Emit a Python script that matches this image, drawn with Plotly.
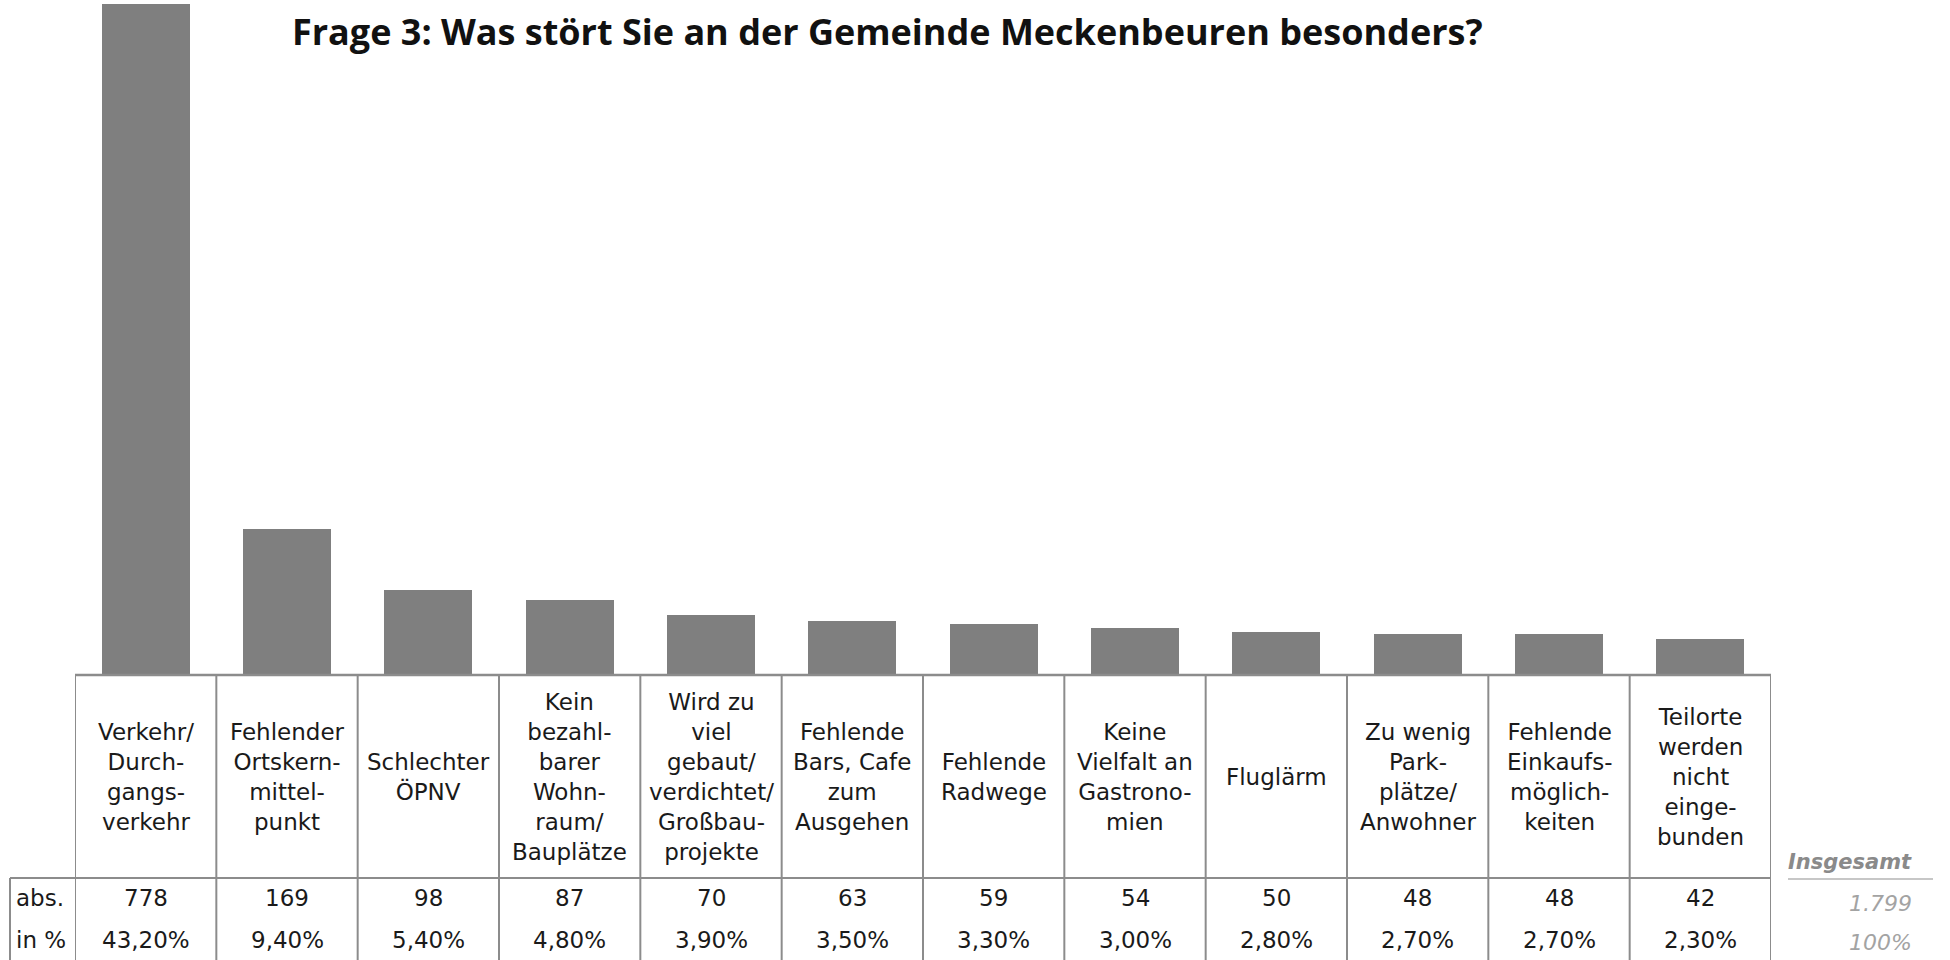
import plotly.graph_objects as go

W, H = 1950, 960

title = "Frage 3: Was stört Sie an der Gemeinde Meckenbeuren besonders?"
categories = [
    "Verkehr/<br>Durch-<br>gangs-<br>verkehr",
    "Fehlender<br>Ortskern-<br>mittel-<br>punkt",
    "Schlechter<br>ÖPNV",
    "Kein<br>bezahl-<br>barer<br>Wohn-<br>raum/<br>Bauplätze",
    "Wird zu<br>viel<br>gebaut/<br>verdichtet/<br>Großbau-<br>projekte",
    "Fehlende<br>Bars, Cafe<br>zum<br>Ausgehen",
    "Fehlende<br>Radwege",
    "Keine<br>Vielfalt an<br>Gastrono-<br>mien",
    "Fluglärm",
    "Zu wenig<br>Park-<br>plätze/<br>Anwohner",
    "Fehlende<br>Einkaufs-<br>möglich-<br>keiten",
    "Teilorte<br>werden<br>nicht<br>einge-<br>bunden",
]
abs_values = [778, 169, 98, 87, 70, 63, 59, 54, 50, 48, 48, 42]
pct_values = [43.2, 9.4, 5.4, 4.8, 3.9, 3.5, 3.3, 3.0, 2.8, 2.7, 2.7, 2.3]
row_labels = ["abs.", "in %"]
total_label = "Insgesamt"
total_abs = "1.799"
total_pct = "100%"

FONT = "DejaVu Sans"
TXT = "#1a1a1a"
LINE = "#8c8c8c"

def py(p):
    return 1 - p / H

def px(p):
    return p / W

n = len(categories)
xs = list(range(n))

x_left, x_right = 75, 1771
y_base, y_top = 675, 4
y_row = 878
y_bottom = 960

fig = go.Figure()
fig.add_trace(go.Bar(
    x=xs, y=abs_values, width=0.623,
    marker=dict(color="#7f7f7f", line=dict(width=0)),
    hoverinfo="skip", showlegend=False,
))

fig.update_layout(
    width=W, height=H,
    margin=dict(l=0, r=0, t=0, b=0),
    paper_bgcolor="white", plot_bgcolor="white",
    bargap=0,
    xaxis=dict(domain=[px(x_left), px(x_right)], range=[-0.5, n - 0.5],
               showticklabels=False, showgrid=False, zeroline=False, showline=False),
    yaxis=dict(domain=[py(y_base), py(y_top)], range=[0, 778],
               showticklabels=False, showgrid=False, zeroline=False, showline=False),
    font=dict(family=FONT, color=TXT),
)

shapes = []
# baseline / header top
shapes.append(dict(type="line", xref="x", yref="paper", x0=-0.5, x1=n - 0.5,
                   y0=py(y_base), y1=py(y_base), line=dict(color=LINE, width=2.5)))
# vertical column lines
for i in range(n + 1):
    shapes.append(dict(type="line", xref="x", yref="paper", x0=i - 0.5, x1=i - 0.5,
                       y0=py(y_base), y1=py(y_bottom), line=dict(color=LINE, width=2)))
# data row top line (extends into label column)
shapes.append(dict(type="line", xref="paper", yref="paper", x0=px(10), x1=px(x_right),
                   y0=py(y_row), y1=py(y_row), line=dict(color=LINE, width=2)))
# label column left border
shapes.append(dict(type="line", xref="paper", yref="paper", x0=px(10), x1=px(10),
                   y0=py(y_row), y1=py(y_bottom), line=dict(color=LINE, width=2)))
# Insgesamt underline
shapes.append(dict(type="line", xref="paper", yref="paper", x0=px(1788), x1=px(1933),
                   y0=py(879), y1=py(879), line=dict(color="#b4b4b4", width=1.5)))

ann = []
ann.append(dict(text="<b>" + title + "</b>", xref="paper", yref="paper",
                x=px(887), y=py(31), xanchor="center", yanchor="middle", showarrow=False,
                font=dict(family="Open Sans", size=36, color="#111111")))
for i, c in enumerate(categories):
    ann.append(dict(text=c, xref="x", yref="paper", x=i, y=py(777),
                    xanchor="center", yanchor="middle", showarrow=False, align="center",
                    font=dict(size=23, color=TXT)))
    ann.append(dict(text=str(abs_values[i]), xref="x", yref="paper", x=i, y=py(898),
                    xanchor="center", yanchor="middle", showarrow=False,
                    font=dict(size=23, color=TXT)))
    ann.append(dict(text=f"{pct_values[i]:.2f}".replace(".", ",") + "%", xref="x", yref="paper",
                    x=i, y=py(940), xanchor="center", yanchor="middle", showarrow=False,
                    font=dict(size=23, color=TXT)))
for lab, yy in zip(row_labels, [898, 940]):
    ann.append(dict(text=lab, xref="paper", yref="paper", x=px(14), y=py(yy),
                    xanchor="left", yanchor="middle", showarrow=False,
                    font=dict(size=23, color=TXT)))
ann.append(dict(text="<b><i>" + total_label + "</i></b>", xref="paper", yref="paper",
                x=px(1914), y=py(862), xanchor="right", yanchor="middle", showarrow=False,
                font=dict(size=21, color="#8a8a8a")))
for t, yy in zip([total_abs, total_pct], [903, 942]):
    ann.append(dict(text="<i>" + t + "</i>", xref="paper", yref="paper",
                    x=px(1914), y=py(yy), xanchor="right", yanchor="middle", showarrow=False,
                    font=dict(size=22, color="#a3a3a3")))

fig.update_layout(shapes=shapes, annotations=ann)
fig.write_html("out.html", config={"displayModeBar": False},
               post_script="document.body.style.margin='0px';")
